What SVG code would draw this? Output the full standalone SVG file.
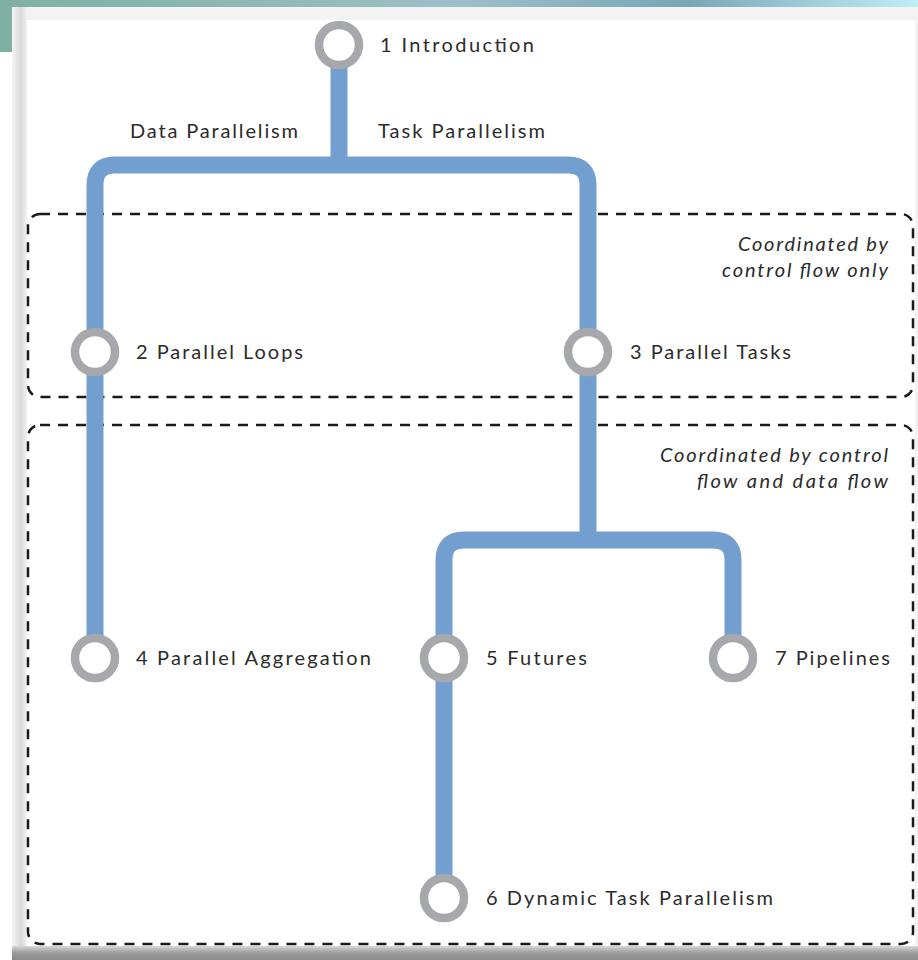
<svg xmlns="http://www.w3.org/2000/svg" width="918" height="960" viewBox="0 0 918 960">
<defs>
<linearGradient id="teal" x1="0" y1="0" x2="1" y2="0">
<stop offset="0" stop-color="#7fb0a4"/>
<stop offset="0.5" stop-color="#9cc0c8"/>
<stop offset="0.75" stop-color="#7aa6b8"/>
<stop offset="1" stop-color="#bfeef5"/>
</linearGradient>
<linearGradient id="bottomShade" x1="0" y1="0" x2="0" y2="1">
<stop offset="0" stop-color="#d8d8d8"/>
<stop offset="0.5" stop-color="#9a9a9a"/>
<stop offset="1" stop-color="#8a8a8a"/>
</linearGradient>
<linearGradient id="leftShade" x1="0" y1="0" x2="1" y2="0">
<stop offset="0" stop-color="#f4f4f4"/>
<stop offset="0.6" stop-color="#d9d9d9"/>
<stop offset="1" stop-color="#f2f2f2"/>
</linearGradient>
</defs>
<style>
.line{fill:none;stroke:#729fcf;stroke-width:17;stroke-linejoin:round}
.node{fill:#ffffff;stroke:#a7a8ac;stroke-width:8.5}
.lbl{font-family:Lato,"Open Sans","Liberation Sans",sans-serif;font-size:20px;fill:#2b2b2b}
.note{font-family:Lato,"Open Sans","Liberation Sans",sans-serif;font-size:20px;font-style:italic;fill:#2b2b2b}
.box{fill:none;stroke:#1a1a1a;stroke-width:2.5;stroke-dasharray:10 8}
</style>
<rect width="918" height="960" fill="#ffffff"/>
<g id="background">
<rect x="0" y="0" width="918" height="8" fill="url(#teal)"/>
<rect x="0" y="0" width="13" height="52" fill="#7fb0a4"/>
<rect x="12" y="7" width="906" height="943" fill="#f3f3f3"/>
<rect x="12" y="7" width="15" height="943" fill="url(#leftShade)"/>
<rect x="27" y="20" width="888" height="926" fill="#ffffff"/>
<rect x="12" y="946" width="906" height="14" fill="url(#bottomShade)"/>
</g>
<g id="groups">
<rect class="box" x="28" y="214" width="885" height="183" rx="12"/>
<rect class="box" x="28" y="425" width="885" height="519" rx="12"/>
<text class="note" x="738" y="251" textLength="150" lengthAdjust="spacing">Coordinated by</text>
<text class="note" x="722" y="277" textLength="166" lengthAdjust="spacing">control flow only</text>
<text class="note" x="660" y="462" textLength="228" lengthAdjust="spacing">Coordinated by control</text>
<text class="note" x="697" y="488" textLength="191" lengthAdjust="spacing">flow and data flow</text>
</g>
<g id="connectors">
<path class="line" d="M339 65 V165"/>
<path class="line" d="M95 658 V185 Q95 165 115 165 H568 Q588 165 588 185 V540"/>
<path class="line" d="M444 898 V560 Q444 540 464 540 H713 Q733 540 733 560 V658"/>
<text class="lbl" x="130" y="138" textLength="168" lengthAdjust="spacing">Data Parallelism</text>
<text class="lbl" x="378" y="138" textLength="167" lengthAdjust="spacing">Task Parallelism</text>
</g>
<g id="n1"><circle class="node" cx="339" cy="45" r="20"/><text class="lbl" x="380" y="52" textLength="154" lengthAdjust="spacing">1 Introduction</text></g>
<g id="n2"><circle class="node" cx="95" cy="352" r="20"/><text class="lbl" x="136" y="359" textLength="167" lengthAdjust="spacing">2 Parallel Loops</text></g>
<g id="n3"><circle class="node" cx="588" cy="352" r="20"/><text class="lbl" x="630" y="359" textLength="161" lengthAdjust="spacing">3 Parallel Tasks</text></g>
<g id="n4"><circle class="node" cx="95" cy="658" r="20"/><text class="lbl" x="136" y="665" textLength="235" lengthAdjust="spacing">4 Parallel Aggregation</text></g>
<g id="n5"><circle class="node" cx="444" cy="658" r="20"/><text class="lbl" x="486" y="665" textLength="101" lengthAdjust="spacing">5 Futures</text></g>
<g id="n7"><circle class="node" cx="733" cy="658" r="20"/><text class="lbl" x="775" y="665" textLength="115" lengthAdjust="spacing">7 Pipelines</text></g>
<g id="n6"><circle class="node" cx="444" cy="898" r="20"/><text class="lbl" x="486" y="905" textLength="287" lengthAdjust="spacing">6 Dynamic Task Parallelism</text></g>
</svg>
